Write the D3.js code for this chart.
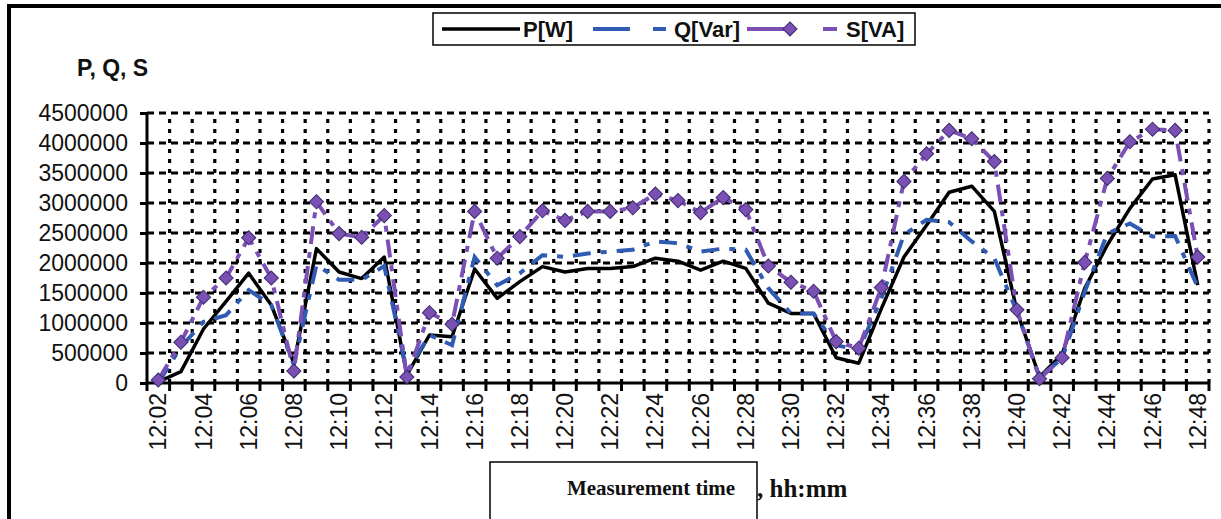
<!DOCTYPE html>
<html>
<head>
<meta charset="utf-8">
<script src="https://cdn.jsdelivr.net/npm/d3@7/dist/d3.min.js"></script>
<style>
  html, body { margin: 0; padding: 0; background: #fff; }
  svg { display: block; }
</style>
</head>
<body>
<svg id="chart" width="1221" height="519"></svg>
<script>
// ---------- data ----------
const times = ["12:02","12:03","12:04","12:05","12:06","12:07","12:08","12:09","12:10","12:11",
  "12:12","12:13","12:14","12:15","12:16","12:17","12:18","12:19","12:20","12:21",
  "12:22","12:23","12:24","12:25","12:26","12:27","12:28","12:29","12:30","12:31",
  "12:32","12:33","12:34","12:35","12:36","12:37","12:38","12:39","12:40","12:41",
  "12:42","12:43","12:44","12:45","12:46","12:47","12:48"];

const tickLabels = ["12:02","12:04","12:06","12:08","12:10","12:12","12:14","12:16","12:18","12:20",
  "12:22","12:24","12:26","12:28","12:30","12:32","12:34","12:36","12:38","12:40",
  "12:42","12:44","12:46","12:48"];

const yTicks = [0, 500000, 1000000, 1500000, 2000000, 2500000, 3000000, 3500000, 4000000, 4500000];

const P = [20000, 190000, 900000, 1360000, 1830000, 1300000, 330000, 2240000, 1850000, 1740000,
  2100000, 130000, 800000, 770000, 1900000, 1410000, 1690000, 1940000, 1850000, 1910000,
  1910000, 1940000, 2080000, 2030000, 1880000, 2030000, 1910000, 1330000, 1160000, 1160000,
  420000, 330000, 1240000, 2100000, 2630000, 3180000, 3280000, 2860000, 1200000, 100000,
  480000, 1580000, 2300000, 2910000, 3400000, 3470000, 1630000];

const Q = [0, 600000, 1020000, 1130000, 1550000, 1300000, 300000, 1970000, 1720000, 1720000,
  1950000, 190000, 800000, 630000, 2100000, 1630000, 1830000, 2130000, 2100000, 2160000,
  2190000, 2220000, 2360000, 2330000, 2190000, 2240000, 2220000, 1580000, 1160000, 1160000,
  630000, 550000, 1410000, 2470000, 2720000, 2680000, 2360000, 2080000, 1190000, 100000,
  410000, 1520000, 2490000, 2660000, 2440000, 2450000, 1600000];

const S = [50000, 680000, 1430000, 1750000, 2420000, 1750000, 200000, 3020000, 2490000, 2430000,
  2790000, 100000, 1170000, 980000, 2860000, 2080000, 2440000, 2870000, 2710000, 2860000,
  2860000, 2920000, 3150000, 3040000, 2840000, 3090000, 2890000, 1950000, 1680000, 1530000,
  690000, 580000, 1590000, 3360000, 3820000, 4210000, 4070000, 3690000, 1220000, 70000,
  420000, 2010000, 3410000, 4020000, 4230000, 4210000, 2100000];

const seriesNames = ["P[W]", "Q[Var]", "S[VA]"];

// ---------- setup ----------
const svg = d3.select("#chart");
const colP = "#000000", colQ = "#2f5bb3", colS = "#7a50b4";

svg.append("rect").attr("width", 1221).attr("height", 519).attr("fill", "#fff");

// outer frame (top and left)
svg.append("line").attr("x1", 7).attr("x2", 1221).attr("y1", 6).attr("y2", 6)
  .attr("stroke", "#000").attr("stroke-width", 4);
svg.append("line").attr("x1", 9).attr("x2", 9).attr("y1", 4).attr("y2", 519)
  .attr("stroke", "#000").attr("stroke-width", 4);

const x = d3.scaleBand().domain(times).range([147, 1209]).padding(0);
const y = d3.scaleLinear().domain([0, 4500000]).range([383, 113]);
const cx = t => x(t) + x.bandwidth() / 2;

// ---------- gridlines ----------
const grid = svg.append("g");
grid.selectAll("line.h").data(yTicks.filter(v => v > 0)).join("line")
  .attr("x1", x.range()[0]).attr("x2", x.range()[1])
  .attr("y1", d => y(d)).attr("y2", d => y(d))
  .attr("stroke", "#000").attr("stroke-width", 3).attr("stroke-dasharray", "7,5");
grid.selectAll("line.v").data(times).join("line")
  .attr("x1", d => x(d) + x.bandwidth()).attr("x2", d => x(d) + x.bandwidth())
  .attr("y1", y(0)).attr("y2", y(4500000))
  .attr("stroke", "#000").attr("stroke-width", 3.2).attr("stroke-dasharray", "4,6");

// ---------- axes ----------
const yAxis = svg.append("g").attr("transform", `translate(${x.range()[0]},0)`)
  .call(d3.axisLeft(y).tickValues(yTicks).tickSize(7).tickPadding(12).tickFormat(d3.format("d")));
yAxis.select(".domain").attr("stroke", "#000").attr("stroke-width", 3)
  .attr("d", `M0,${y(4500000)}V${y(0)}`);
yAxis.selectAll(".tick line").attr("stroke", "#000").attr("stroke-width", 3);
yAxis.selectAll(".tick text").attr("font-family", "'Liberation Sans', Arial, sans-serif")
  .attr("font-size", 23).attr("fill", "#111");

// x axis: tick marks at category boundaries
const xAxisG = svg.append("g");
xAxisG.append("line").attr("x1", x.range()[0] - 1).attr("x2", x.range()[1] + 1)
  .attr("y1", y(0)).attr("y2", y(0)).attr("stroke", "#000").attr("stroke-width", 3);
xAxisG.selectAll("line.tk").data(times).join("line")
  .attr("x1", d => x(d) + x.bandwidth()).attr("x2", d => x(d) + x.bandwidth())
  .attr("y1", y(0)).attr("y2", y(0) + 8)
  .attr("stroke", "#000").attr("stroke-width", 3);
xAxisG.append("line").attr("x1", x.range()[0]).attr("x2", x.range()[0])
  .attr("y1", y(0)).attr("y2", y(0) + 8).attr("stroke", "#000").attr("stroke-width", 3);

xAxisG.selectAll("text.lbl").data(tickLabels).join("text")
  .attr("transform", d => `translate(${cx(d)},${y(0) + 10}) rotate(-90)`)
  .attr("text-anchor", "end").attr("dy", "0.35em")
  .attr("font-family", "'Liberation Sans', Arial, sans-serif").attr("font-size", 23)
  .attr("fill", "#111").text(d => d);

// ---------- series ----------
const line = d3.line().x((d, i) => cx(times[i])).y(d => y(d));

svg.append("path").datum(P).attr("d", line).attr("fill", "none")
  .attr("stroke", colP).attr("stroke-width", 3.5).attr("stroke-linejoin", "round");
svg.append("path").datum(Q).attr("d", line).attr("fill", "none")
  .attr("stroke", colQ).attr("stroke-width", 4).attr("stroke-dasharray", "18,10,6,10");
svg.append("path").datum(S).attr("d", line).attr("fill", "none")
  .attr("stroke", colS).attr("stroke-width", 4).attr("stroke-dasharray", "18,8,6,8");

const diamond = d3.symbol().type(d3.symbolSquare).size(100);
svg.selectAll("path.mk").data(S).join("path")
  .attr("d", diamond)
  .attr("transform", (d, i) => `translate(${cx(times[i])},${y(d)}) rotate(45)`)
  .attr("fill", colS).attr("stroke", "#3d2a6a").attr("stroke-width", 1);

// ---------- legend ----------
const lg = svg.append("g");
lg.append("rect").attr("x", 433).attr("y", 13).attr("width", 482).attr("height", 32)
  .attr("fill", "#fff").attr("stroke", "#000").attr("stroke-width", 1.5);
const lgFont = "'Liberation Sans', Arial, sans-serif";
lg.append("line").attr("x1", 442).attr("x2", 520).attr("y1", 29).attr("y2", 29)
  .attr("stroke", colP).attr("stroke-width", 3.5);
lg.append("text").attr("x", 523).attr("y", 37).text(seriesNames[0]);
lg.append("line").attr("x1", 593).attr("x2", 666).attr("y1", 29).attr("y2", 29)
  .attr("stroke", colQ).attr("stroke-width", 4).attr("stroke-dasharray", "37,23,13,40");
lg.append("text").attr("x", 674).attr("y", 37).text(seriesNames[1]);
lg.append("line").attr("x1", 747).attr("x2", 837).attr("y1", 29).attr("y2", 29)
  .attr("stroke", colS).attr("stroke-width", 4).attr("stroke-dasharray", "40,36,14,40");
lg.append("path").attr("d", diamond).attr("transform", "translate(790,29) rotate(45)")
  .attr("fill", colS).attr("stroke", "#3d2a6a").attr("stroke-width", 1);
lg.append("text").attr("x", 846).attr("y", 37).text(seriesNames[2]);
lg.selectAll("text").attr("font-family", lgFont).attr("font-size", 22)
  .attr("font-weight", "bold").attr("fill", "#111");

// ---------- titles ----------
svg.append("text").attr("x", 77).attr("y", 76).text("P, Q, S")
  .attr("font-family", lgFont).attr("font-size", 23).attr("font-weight", "bold").attr("fill", "#111");

svg.append("rect").attr("x", 490).attr("y", 462).attr("width", 267).attr("height", 70)
  .attr("fill", "#fff").attr("stroke", "#000").attr("stroke-width", 1.5);
svg.append("text").attr("x", 651).attr("y", 495).attr("text-anchor", "middle")
  .attr("font-family", "'Liberation Serif', 'Times New Roman', serif")
  .attr("font-size", 21).attr("font-weight", "bold").attr("fill", "#111")
  .text("Measurement time");
svg.append("text").attr("x", 757).attr("y", 497)
  .attr("font-family", "'Liberation Serif', 'Times New Roman', serif")
  .attr("font-size", 25).attr("font-weight", "bold").attr("fill", "#111")
  .text(", hh:mm");
</script>
</body>
</html>
